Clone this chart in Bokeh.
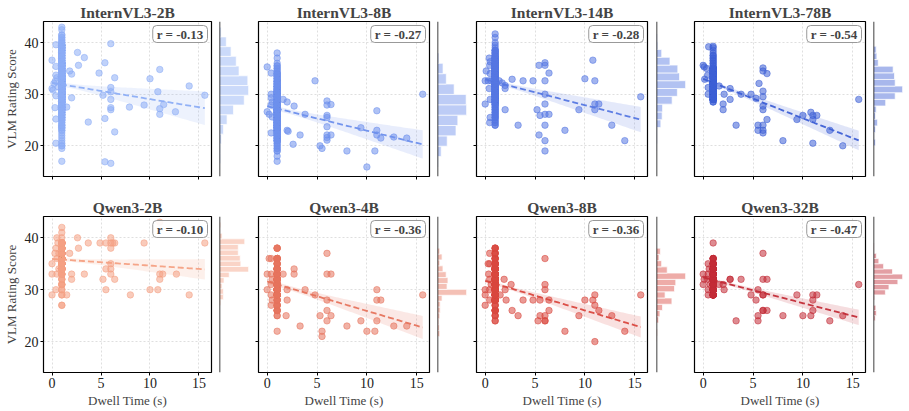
import numpy as np
from bokeh.plotting import figure
from bokeh.layouts import row, column
from bokeh.models import Range1d, Label, Span, FixedTicker
from bokeh.embed import file_html
from bokeh.resources import INLINE

model_names = ["InternVL3-2B", "InternVL3-8B", "InternVL3-14B", "InternVL3-78B",
               "Qwen3-2B", "Qwen3-4B", "Qwen3-8B", "Qwen3-32B"]
r_values = [-0.13, -0.27, -0.28, -0.54, -0.10, -0.36, -0.36, -0.47]
x_ticks = [0, 5, 10, 15]
y_ticks = [20, 30, 40]
col_dwell = 1.0
hist_bins = [14, 11, 15, 15, 15, 15, 15, 15]
colors = ["#8cadf5", "#6d8fec", "#5577e2", "#3d5fd5",
          "#f4a083", "#e6735c", "#d9473e", "#c22b36"]

# ---- InternVL3-2B ----
ivl2b_x = [0.0, 0.0, 0.1, 0.2, 0.35, 0.5, 0.4, 0.4, 0.4, 0.4, 0.3, 0.4, 0.4, 0.65, 1.5, 1.8, 2.0, 2.0, 2.6, 2.7,
           3.3, 3.7, 4.8, 5.2, 5.4, 5.4, 5.4, 6.0, 6.0, 6.0, 6.0, 6.0, 6.0, 6.0, 6.4, 6.4, 7.9, 9.4, 10.0, 10.8,
           11.0, 11.0, 11.0, 11.4, 12.6, 14.0, 15.6]
ivl2b_y = [36.6, 31.1, 30.8, 32.1, 32.5, 33.2, 33.7, 39.6, 35.4, 29.7, 27.4, 25.2, 20.5, 31.4, 27.5, 34.5, 33.9, 29.3, 38.1, 35.6,
           37.1, 24.6, 34.1, 29.8, 36.1, 25.3, 16.9, 39.8, 31.3, 30.5, 29.0, 27.4, 27.0, 16.6, 33.2, 22.7, 27.5, 27.9, 33.0, 30.5,
           34.8, 27.2, 26.1, 28.0, 26.6, 31.6, 29.8]
ivl2b_col_y = [17.0, 19.5, 20.0, 20.5, 21.0, 21.5, 22.0, 22.5, 23.0, 23.5, 24.0, 24.5, 25.0, 25.5, 26.0, 26.5,
               27.0, 27.5, 28.0, 28.5, 29.0, 29.5, 30.0, 30.5, 31.0, 31.5, 32.0, 32.5, 33.0, 33.5, 34.0, 34.5,
               35.0, 35.5, 36.0, 36.5, 37.0, 37.5, 38.0, 38.5, 39.0, 39.5, 40.0, 40.5, 41.0, 41.5, 42.5, 43.0]
ivl2b_col_n = [1, 1, 2, 1, 1, 1, 1, 1, 2, 3, 3, 2, 4, 5, 5, 5,
               10, 11, 12, 12, 17, 17, 17, 17, 15, 15, 15, 17, 17, 17, 17, 13,
               13, 13, 13, 6, 6, 6, 6, 8, 8, 8, 3, 2, 2, 2, 1, 1]

# ---- InternVL3-8B ----
ivl8b_x = [0.0, 0.0, 0.4, 0.4, 0.4, 0.5, 0.4, 0.2, 0.5, 0.4, 1.6, 2.0, 2.0, 2.1, 2.7, 2.6, 3.3, 3.8, 4.8, 5.3,
           5.5, 6.0, 6.0, 6.4, 6.0, 6.0, 6.0, 6.0, 6.0, 6.0, 6.4, 8.0, 9.4, 10.0, 10.8, 11.0, 11.0, 11.0, 11.4, 12.7,
           14.0, 15.6]
ivl8b_y = [35.3, 26.6, 34.1, 30.0, 29.3, 28.5, 27.9, 26.1, 25.6, 22.5, 29.0, 28.5, 23.0, 22.8, 27.7, 20.3, 22.1, 26.1, 32.6, 20.0,
           19.5, 28.7, 27.9, 28.0, 25.9, 25.5, 23.7, 22.1, 21.6, 21.1, 22.1, 19.0, 23.5, 15.9, 19.0, 26.8, 23.0, 22.1, 21.5, 21.7,
           21.5, 30.0]
ivl8b_col_y = [17.0, 18.0, 19.0, 19.5, 20.0, 20.5, 21.0, 21.5, 22.0, 22.5, 23.0, 23.5, 24.0, 24.5, 25.0, 25.5, 26.0, 26.5,
               27.0, 27.5, 28.0, 28.5, 29.0, 29.5, 30.0, 30.5, 31.0, 31.5, 32.0, 32.5, 33.0, 33.5, 34.0, 34.5, 35.0, 35.5,
               36.0, 37.0, 38.0]
ivl8b_col_n = [1, 1, 2, 2, 2, 2, 5, 5, 5, 5, 10, 10, 10, 10, 10, 11, 11, 11,
               17, 17, 17, 17, 11, 11, 11, 11, 6, 6, 5, 5, 4, 4, 4, 2, 2, 2,
               1, 1, 1]

# ---- InternVL3-14B ----
ivl14b_x = [0.0, 0.0, 0.1, 0.4, 0.5, 0.45, 0.5, 0.4, 0.5, 0.5, 0.45, 0.3, 0.6, 1.4, 1.7, 2.0, 2.0, 2.0, 2.7, 3.3,
            3.8, 4.8, 5.2, 5.4, 5.5, 5.4, 6.0, 6.0, 6.0, 6.0, 6.0, 6.0, 6.0, 6.0, 6.0, 6.4, 6.4, 8.0, 9.4, 10.0,
            10.8, 11.0, 11.0, 11.0, 11.4, 12.7, 14.0, 15.6]
ivl14b_y = [32.6, 28.1, 34.5, 37.0, 36.3, 35.6, 34.0, 31.1, 29.0, 25.5, 24.5, 32.6, 32.6, 32.6, 32.2, 31.7, 31.1, 27.0, 32.9, 24.0,
            32.6, 32.6, 27.0, 35.6, 25.9, 22.1, 36.1, 35.6, 32.6, 30.0, 28.1, 26.1, 24.0, 21.0, 19.0, 34.1, 26.1, 23.0, 27.0, 33.0,
            36.6, 32.6, 28.1, 27.0, 28.1, 24.0, 21.0, 29.5]
ivl14b_col_y = [24.0, 24.5, 25.0, 25.5, 26.0, 26.5, 27.0, 27.5, 28.0, 28.5, 29.0, 29.5, 30.0, 30.5, 31.0, 31.5, 32.0, 32.5,
                33.0, 33.5, 34.0, 34.5, 35.0, 35.5, 36.0, 36.5, 37.0, 37.5, 38.0, 38.5, 39.0, 39.5, 40.0, 41.0, 41.7]
ivl14b_col_n = [2, 2, 2, 3, 3, 3, 3, 3, 4, 10, 10, 10, 15, 15, 15, 19, 19, 19,
                16, 16, 17, 15, 15, 15, 9, 9, 9, 4, 4, 4, 1, 1, 1, 1, 1]

# ---- InternVL3-78B ----
ivl78b_x = [0.0, 0.1, 0.35, 0.15, 0.5, 0.5, 0.45, 0.55, 1.6, 2.1, 2.0, 2.0, 2.7, 2.7, 3.3, 3.8, 4.8, 5.3,
            5.6, 5.5, 5.5, 6.0, 6.0, 6.4, 6.0, 6.0, 6.0, 6.0, 6.0, 6.0, 6.0, 6.4, 8.0, 9.4, 10.0, 10.8, 11.0, 11.0,
            11.0, 11.4, 12.7, 14.0, 15.6]
ivl78b_y = [35.6, 35.3, 35.0, 32.9, 31.3, 30.0, 33.7, 39.2, 31.6, 30.0, 28.1, 27.0, 31.1, 29.0, 24.0, 30.0, 30.0, 29.2,
            32.1, 24.0, 23.0, 35.1, 34.5, 34.0, 30.6, 29.5, 27.7, 27.0, 24.0, 23.0, 22.5, 25.1, 21.0, 25.1, 25.9, 26.5, 25.9, 25.1,
            20.5, 25.9, 23.0, 20.0, 29.0]
ivl78b_col_y = [28.5, 29.0, 29.5, 30.0, 30.5, 31.0, 31.5, 32.0, 32.5, 33.0, 33.5, 34.0, 34.5, 35.0, 35.5, 36.0,
                36.5, 37.0, 37.5, 38.0, 38.5, 39.0, 39.3]
ivl78b_col_n = [2, 13, 13, 13, 13, 13, 14, 15, 15, 8, 8, 12, 13, 12, 2, 2, 2, 2, 2, 1, 1, 1, 1]

# ---- Qwen3-2B ----
qw2b_x = [0.0, 0.0, 0.0, 0.4, 0.5, 0.4, 0.3, 0.5, 0.6, 0.5, 0.7, 0.7, 1.5, 1.8, 2.0, 2.0, 2.6, 2.7, 3.3, 3.7,
          4.9, 5.2, 5.5, 5.5, 5.5, 6.0, 6.0, 6.0, 6.0, 6.0, 6.0, 6.2, 6.4, 6.4, 8.0, 9.4, 10.0, 10.8, 11.0, 11.0,
          11.0, 11.3, 12.7, 14.0, 15.6]
qw2b_y = [35, 33, 29, 38, 40, 30, 37, 36, 39, 33, 34, 37, 29, 37, 33, 32, 40, 38, 33, 39,
          39, 32, 30, 34, 39, 40, 39, 38, 35, 34, 33, 39, 32, 39, 29, 39, 30, 30, 33, 32,
          43, 33, 33, 29, 39]
qw2b_col_y = [27, 29, 30, 31, 32, 33, 34, 35, 36, 37, 38, 39, 40, 41, 42]
qw2b_col_n = [2, 2, 2, 4, 3, 7, 42, 31, 31, 26, 26, 30, 1, 1, 1]

# ---- Qwen3-4B ----
qw4b_x = [0.0, 0.0, 0.2, 0.4, 0.4, 0.5, 0.4, 0.4, 0.5, 0.4, 1.6, 2.0, 2.0, 1.9, 2.7, 2.7, 3.3, 3.8, 4.8, 5.3,
          5.5, 5.5, 6.0, 6.0, 6.4, 6.0, 6.0, 6.0, 6.4, 8.0, 9.4, 10.0, 10.8, 11.0, 11.0, 11.0, 11.4, 12.7, 14.0, 15.6]
qw4b_y = [33, 30, 36, 36, 33, 32, 31, 29, 28, 27, 33, 30, 28, 25, 34, 33, 23, 30, 29, 25,
          22, 21, 37, 33, 33, 28, 26, 24, 25, 23, 24, 22, 22, 30, 28, 24, 28, 23, 23, 29]
qw4b_col_y = [22, 25, 26, 27, 28, 29, 30, 31, 32, 33, 34, 35, 36, 38]
qw4b_col_n = [1, 2, 5, 5, 5, 15, 42, 20, 22, 13, 11, 5, 8, 4]

# ---- Qwen3-8B ----
qw8b_x = [0.0, 0.0, 0.0, 0.45, 0.45, 0.35, 0.45, 0.45, 0.45, 0.3, 0.6, 1.5, 1.9, 2.0, 2.1, 2.6, 2.7, 3.3, 3.8, 4.8,
          5.3, 5.5, 5.5, 6.0, 6.0, 6.0, 6.0, 6.0, 6.0, 6.4, 6.4, 8.0, 9.4, 10.0, 10.8, 11.0, 11.0, 11.0, 11.4, 12.7,
          14.0, 15.6]
qw8b_y = [30, 29, 27, 37, 35, 33, 32, 30, 28, 35, 31, 29, 32, 30, 28, 31, 26, 25, 28, 28,
          24, 25, 28, 36, 31, 30, 25, 24, 24, 28, 26, 22, 25, 28, 28, 29, 27, 20, 26, 25,
          22, 29]
qw8b_col_y = [24, 25, 26, 27, 28, 29, 30, 31, 32, 33, 34, 35, 36, 37, 38]
qw8b_col_n = [2, 3, 6, 3, 28, 16, 38, 42, 35, 30, 25, 10, 5, 4, 4]

# ---- Qwen3-32B ----
qw32b_x = [0.0, 0.0, 0.1, 0.5, 0.5, 0.45, 0.5, 0.5, 0.6, 0.7, 1.6, 2.0, 2.1, 2.7, 2.7, 3.3, 3.8, 4.8, 5.3, 5.5,
           5.5, 5.5, 6.0, 6.0, 6.0, 6.0, 6.0, 6.0, 6.4, 6.4, 8.0, 9.4, 10.0, 10.8, 11.0, 11.0, 11.0, 11.4, 12.7, 14.0,
           15.6]
qw32b_y = [33, 31, 32, 35, 33, 32, 30, 29, 34, 31, 31, 31, 30, 32, 32, 24, 32, 29, 28, 30,
           25, 24, 37, 32, 29, 29, 26, 26, 32, 26, 25, 29, 25, 25, 29, 28, 26, 29, 24, 25,
           31]
qw32b_col_y = [29, 30, 31, 32, 33, 34, 35, 36, 39]
qw32b_col_n = [13, 23, 36, 42, 30, 16, 8, 5, 1]

panels = [
    (ivl2b_x, ivl2b_y, ivl2b_col_y, ivl2b_col_n),
    (ivl8b_x, ivl8b_y, ivl8b_col_y, ivl8b_col_n),
    (ivl14b_x, ivl14b_y, ivl14b_col_y, ivl14b_col_n),
    (ivl78b_x, ivl78b_y, ivl78b_col_y, ivl78b_col_n),
    (qw2b_x, qw2b_y, qw2b_col_y, qw2b_col_n),
    (qw4b_x, qw4b_y, qw4b_col_y, qw4b_col_n),
    (qw8b_x, qw8b_y, qw8b_col_y, qw8b_col_n),
    (qw32b_x, qw32b_y, qw32b_col_y, qw32b_col_n),
]

FONT = "Liberation Serif"
XR = (-0.87, 16.28)
YR = (14.05, 44.1)
FRAME_W = 171
HIST_W = 30
left_b = [40, 5, 5, 4]
right_b = [8, 8, 9, 8]
hist_right_b = [4, 4, 4, 6]
top_b = [21, 22]
bot_b = [18, 39]
frame_h = [155, 156]


def fit_band(xa, ya):
    n = len(xa)
    xm, ym = xa.mean(), ya.mean()
    sxx = ((xa - xm) ** 2).sum()
    b = ((xa - xm) * (ya - ym)).sum() / sxx
    a = ym - b * xm
    s = np.sqrt(((ya - (a + b * xa)) ** 2).sum() / (n - 2))
    xs = np.linspace(xa.min(), xa.max(), 80)
    yh = a + b * xs
    se = 1.96 * s * np.sqrt(1.0 / n + (xs - xm) ** 2 / sxx)
    return xs, yh, yh - se, yh + se


rows = [[], []]
for i, (sx, sy, cy, cn) in enumerate(panels):
    r, c = divmod(i, 4)
    color = colors[i]
    xa = np.concatenate([np.array(sx, float), np.full(int(np.sum(cn)), col_dwell)])
    ya = np.concatenate([np.array(sy, float), np.repeat(np.array(cy, float), cn)])
    H = top_b[r] + frame_h[r] + bot_b[r]

    p = figure(width=left_b[c] + FRAME_W + right_b[c], height=H,
               x_range=Range1d(*XR), y_range=Range1d(*YR),
               output_backend="svg", toolbar_location=None,
               min_border_left=left_b[c], min_border_right=right_b[c],
               min_border_top=top_b[r], min_border_bottom=bot_b[r],
               title=model_names[i])
    p.title.text_font = FONT
    p.title.text_font_size = "15.5px"
    p.title.text_font_style = "bold"
    p.title.align = "center"
    p.title.standoff = 2
    p.outline_line_color = "black"
    p.outline_line_width = 1.2
    p.outline_line_alpha = 1.0

    p.xaxis.ticker = FixedTicker(ticks=x_ticks)
    p.yaxis.ticker = FixedTicker(ticks=y_ticks)
    p.axis.major_tick_out = 3
    p.axis.major_tick_in = 0
    p.axis.minor_tick_out = 0
    p.axis.minor_tick_in = 0
    p.axis.axis_line_color = None
    p.axis.major_tick_line_color = "black"
    p.axis.major_label_text_font = FONT
    p.axis.major_label_text_font_size = "14px"
    p.axis.major_label_text_color = "#222222"
    p.axis.major_label_standoff = 2
    if r == 0:
        p.xaxis.major_label_overrides = {t: "" for t in x_ticks}
        p.xaxis.major_label_standoff = 0
    else:
        p.xaxis.axis_label = "Dwell Time (s)"
        p.xaxis.axis_label_text_font = FONT
        p.xaxis.axis_label_text_font_size = "13px"
        p.xaxis.axis_label_text_font_style = "normal"
        p.xaxis.axis_label_standoff = 2
    if c > 0:
        p.yaxis.major_label_overrides = {t: "" for t in y_ticks}
        p.yaxis.major_label_standoff = 0
    else:
        p.yaxis.axis_label = "VLM Rating Score"
        p.yaxis.axis_label_text_font = FONT
        p.yaxis.axis_label_text_font_size = "13px"
        p.yaxis.axis_label_text_font_style = "normal"
        p.yaxis.axis_label_standoff = 3

    p.grid.grid_line_color = "#bbbbbb"
    p.grid.grid_line_alpha = 0.6
    p.grid.grid_line_dash = "2 2"
    p.grid.grid_line_width = 0.8

    xs, yh, lo, hi = fit_band(xa, ya)
    p.varea(x=xs, y1=lo, y2=hi, fill_color=color, fill_alpha=0.16)
    p.scatter(xa, ya, size=6.5, marker="circle", fill_color=color, fill_alpha=0.55,
              line_color=color, line_alpha=0.75, line_width=0.7)
    p.line(xs, yh, line_color=color, line_width=1.8, line_dash="6 3", line_alpha=0.95)

    lab = Label(x=XR[1], y=YR[1], x_offset=-4, y_offset=-4,
                text="r = %.2f" % r_values[i], text_align="right", text_baseline="top",
                text_font=FONT, text_font_style="bold", text_font_size="13px",
                background_fill_color="white", background_fill_alpha=0.9,
                border_line_color="#999999", border_line_width=1,
                padding=dict(left=4, right=4, top=1, bottom=1), border_radius=4)
    p.add_layout(lab)

    counts, edges = np.histogram(ya, bins=hist_bins[i])
    h = figure(width=HIST_W + hist_right_b[c], height=H,
               x_range=Range1d(0, counts.max() * 1.03), y_range=Range1d(*YR),
               x_axis_location=None, y_axis_location=None,
               output_backend="svg", toolbar_location=None,
               min_border_left=0, min_border_right=hist_right_b[c],
               min_border_top=top_b[r], min_border_bottom=bot_b[r])
    h.outline_line_color = None
    h.grid.visible = False
    h.quad(left=0, right=counts, bottom=edges[:-1], top=edges[1:],
           fill_color=color, fill_alpha=0.45, line_color="white", line_width=0.7)
    h.add_layout(Span(location=0, dimension="height", line_color="black", line_width=1.5))

    rows[r].extend([p, h])

layout = column(row(*rows[0]), row(*rows[1]))
open("out.html", "w").write(file_html(layout, INLINE))
